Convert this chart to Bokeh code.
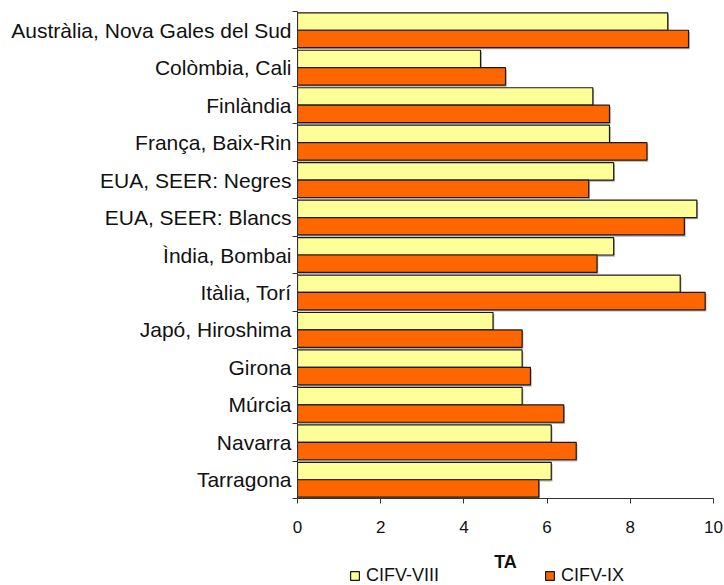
from bokeh.plotting import figure
from bokeh.layouts import column
from bokeh.models import Range1d, FixedTicker, Legend, LegendItem
from bokeh.core.properties import value
from bokeh.embed import file_html
from bokeh.resources import INLINE

categories = ["Austràlia, Nova Gales del Sud", "Colòmbia, Cali", "Finlàndia",
              "França, Baix-Rin", "EUA, SEER: Negres", "EUA, SEER: Blancs",
              "Ìndia, Bombai", "Itàlia, Torí", "Japó, Hiroshima", "Girona",
              "Múrcia", "Navarra", "Tarragona"]
cifv_viii = [8.9, 4.4, 7.1, 7.5, 7.6, 9.6, 7.6, 9.2, 4.7, 5.4, 5.4, 6.1, 6.1]
cifv_ix = [9.4, 5.0, 7.5, 8.4, 7.0, 9.3, 7.2, 9.8, 5.4, 5.6, 6.4, 6.7, 5.8]
x_ticks = [0, 2, 4, 6, 8, 10]
series_names = ["CIFV-VIII", "CIFV-IX"]
axis_title = "TA"

YELLOW = "#FFFF99"
ORANGE = "#FF6600"
EDGE = "#1a1a1a"
FONT = "Liberation Sans"
W = 724

n = len(categories)
centers = list(range(n))
bar_h = 0.465
y_yellow = [c - bar_h / 2 for c in centers]
y_orange = [c + bar_h / 2 for c in centers]

x_range = Range1d(0, 10)
p = figure(width=W, height=548, output_backend="svg", toolbar_location=None,
           x_range=x_range, y_range=Range1d(n - 0.5, -0.5),
           min_border_top=11, min_border_right=11, min_border_left=297,
           min_border_bottom=50)
p.outline_line_color = None
p.grid.visible = False

# subtle drop shadow
sdx, sdy = 0.03, 0.045
p.hbar(y=[y + sdy for y in y_yellow], left=sdx, right=[v + sdx for v in cifv_viii],
       height=bar_h, fill_color="#b0b0b0", line_color=None)
p.hbar(y=[y + sdy for y in y_orange], left=sdx, right=[v + sdx for v in cifv_ix],
       height=bar_h, fill_color="#b0b0b0", line_color=None)

p.hbar(y=y_yellow, left=0, right=cifv_viii, height=bar_h,
       fill_color=YELLOW, line_color=EDGE, line_width=1.2)
p.hbar(y=y_orange, left=0, right=cifv_ix, height=bar_h,
       fill_color=ORANGE, line_color=EDGE, line_width=1.2)

# y axis
ya = p.yaxis[0]
ya.ticker = FixedTicker(ticks=centers, minor_ticks=[c - 0.5 for c in centers] + [n - 0.5])
ya.major_label_overrides = {c: categories[c] for c in centers}
ya.major_tick_line_color = None
ya.major_tick_out = 0
ya.major_tick_in = 0
ya.minor_tick_out = 5
ya.minor_tick_in = 0
ya.minor_tick_line_color = "#333333"
ya.axis_line_color = "#333333"
ya.major_label_text_font = FONT
ya.major_label_text_font_size = "21px"
ya.major_label_text_color = "#111111"
ya.major_label_standoff = 1

# x axis
xa = p.xaxis[0]
xa.ticker = FixedTicker(ticks=x_ticks, minor_ticks=[])
xa.major_tick_out = 5
xa.major_tick_in = 0
xa.major_tick_line_color = "#333333"
xa.axis_line_color = "#333333"
xa.major_label_text_font = FONT
xa.major_label_text_font_size = "17px"
xa.major_label_text_color = "#111111"
xa.major_label_standoff = 17

# bottom strip: axis title and legend (they share rows in the reference);
# its frame is aligned with the main plot's frame, so it shares the x range
H2 = 37
p2 = figure(width=W, height=H2, output_backend="svg", toolbar_location=None,
            x_range=x_range, y_range=Range1d(0, H2),
            min_border_top=0, min_border_bottom=0,
            min_border_left=297, min_border_right=11)
p2.axis.visible = False
p2.grid.visible = False
p2.outline_line_color = None

p2.text(x=[(x_ticks[0] + x_ticks[-1]) / 2], y=[24], text=[axis_title],
        text_font=value(FONT), text_font_style="bold", text_font_size="18px",
        text_color="#111111", text_align="center", text_baseline="middle")

# legend keys: renderers kept outside the visible range, used only as swatches
d1 = p2.hbar(y=[-100], right=[0], height=1, fill_color=YELLOW, line_color=EDGE, line_width=1.2)
d2 = p2.hbar(y=[-100], right=[0], height=1, fill_color=ORANGE, line_color=EDGE, line_width=1.2)
legend = Legend(items=[LegendItem(label=series_names[0], renderers=[d1]),
                       LegendItem(label=series_names[1], renderers=[d2])],
                orientation="horizontal", location=(52, -1),
                border_line_color=None, background_fill_alpha=0,
                label_text_font=FONT, label_text_font_size="18px",
                label_text_color="#111111",
                glyph_width=11, glyph_height=11, label_standoff=6,
                spacing=105, padding=0, margin=0)
p2.add_layout(legend, "center")

layout = column(p, p2, spacing=0)
open("out.html", "w").write(file_html(layout, INLINE))
